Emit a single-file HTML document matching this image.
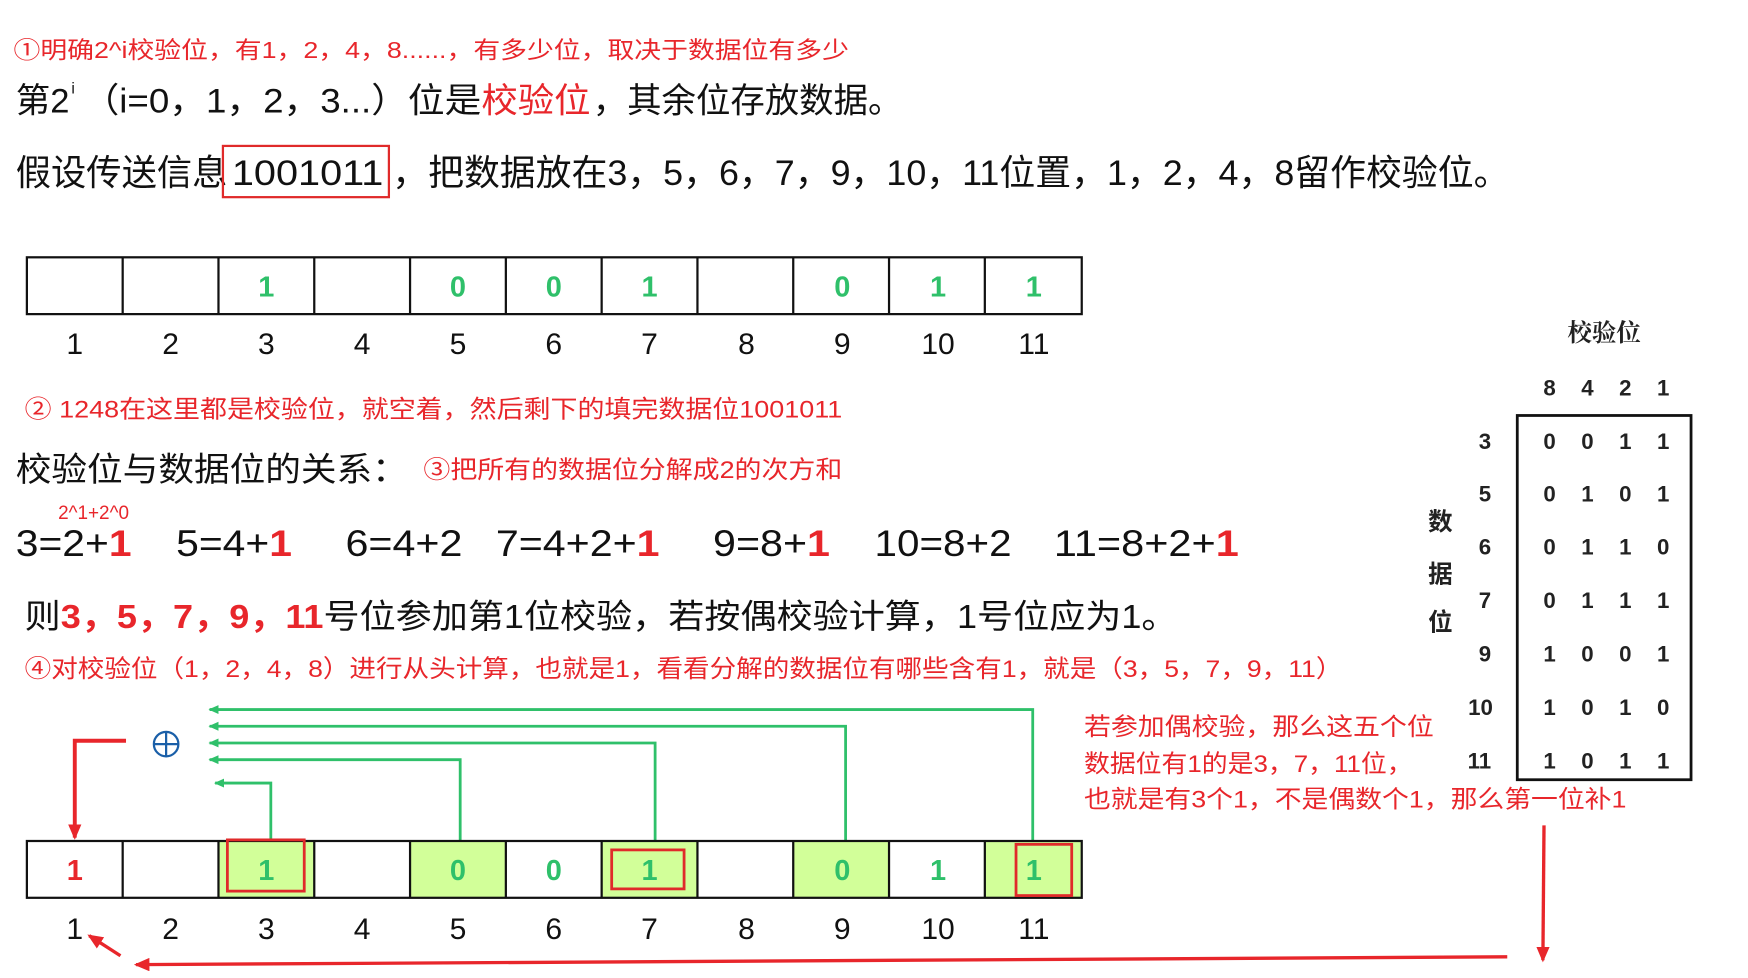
<!DOCTYPE html>
<html><head><meta charset="utf-8"><style>
html,body{margin:0;padding:0;background:#fff;width:1748px;height:978px;overflow:hidden}
svg{display:block}
text{font-family:"Liberation Sans","Noto Sans CJK SC",sans-serif}
.r{fill:#e8262b}
.g{fill:#2fc06a;font-weight:bold}
.s{font-family:"Liberation Serif","Noto Serif CJK SC",serif;font-weight:bold;fill:#222}
</style></head><body>
<svg width="1748" height="978" viewBox="0 0 1569 878" xmlns="http://www.w3.org/2000/svg">
<defs>
<marker id="ga" markerWidth="10" markerHeight="10" refX="8" refY="5" orient="auto" markerUnits="userSpaceOnUse"><path d="M0,1 L9,5 L0,9 Z" fill="#2fc06a"/></marker>
<marker id="ra" markerWidth="14" markerHeight="12" refX="12" refY="6" orient="auto" markerUnits="userSpaceOnUse"><path d="M0,0 L14,6 L0,12 Z" fill="#e8262b"/></marker>
</defs>
<text x="12" y="52" font-size="21" class="r" textLength="750" lengthAdjust="spacingAndGlyphs">①明确2^i校验位，有1，2，4，8......，有多少位，取决于数据位有多少</text>
<text x="14" y="101" font-size="31" fill="#111">第2</text>
<text x="64" y="84" font-size="14" fill="#111">i</text>
<text x="74" y="101" font-size="31" fill="#111" textLength="358" lengthAdjust="spacingAndGlyphs">（i=0，1，2，3...）位是</text>
<text x="432" y="101" font-size="31" class="r" textLength="98" lengthAdjust="spacingAndGlyphs">校验位</text>
<text x="532" y="101" font-size="31" fill="#111" textLength="278" lengthAdjust="spacingAndGlyphs">，其余位存放数据。</text>
<text x="14" y="166" font-size="32" fill="#111" textLength="190" lengthAdjust="spacingAndGlyphs">假设传送信息</text>
<text x="208" y="166" font-size="32" fill="#111" textLength="136" lengthAdjust="spacingAndGlyphs">1001011</text>
<rect x="200" y="131" width="149" height="46" fill="none" stroke="#e02a2a" stroke-width="2"/>
<text x="352" y="166" font-size="32" fill="#111" textLength="1003" lengthAdjust="spacingAndGlyphs">，把数据放在3，5，6，7，9，10，11位置，1，2，4，8留作校验位。</text>
<g stroke="#111" stroke-width="2" fill="none">
<rect x="24" y="231" width="947" height="51"/>
<path d="M110,231v51M196,231v51M282,231v51M368,231v51M454,231v51M540,231v51M626,231v51M712,231v51M798,231v51M884,231v51"/>
</g>
<g font-size="26" text-anchor="middle">
<text x="239" y="266" class="g">1</text><text x="411" y="266" class="g">0</text><text x="497" y="266" class="g">0</text><text x="583" y="266" class="g">1</text><text x="756" y="266" class="g">0</text><text x="842" y="266" class="g">1</text><text x="928" y="266" class="g">1</text>
</g>
<g font-size="27" text-anchor="middle" fill="#111">
<text x="67" y="318">1</text><text x="153" y="318">2</text><text x="239" y="318">3</text><text x="325" y="318">4</text><text x="411" y="318">5</text><text x="497" y="318">6</text><text x="583" y="318">7</text><text x="670" y="318">8</text><text x="756" y="318">9</text><text x="842" y="318">10</text><text x="928" y="318">11</text>
</g>
<text x="22" y="375" font-size="22" class="r" textLength="734" lengthAdjust="spacingAndGlyphs">② 1248在这里都是校验位，就空着，然后剩下的填完数据位1001011</text>
<text x="14" y="432" font-size="30" fill="#111" textLength="352" lengthAdjust="spacingAndGlyphs">校验位与数据位的关系：</text>
<text x="380" y="429" font-size="22" class="r" textLength="376" lengthAdjust="spacingAndGlyphs">③把所有的数据位分解成2的次方和</text>
<text x="52" y="466" font-size="17" class="r">2^1+2^0</text>
<g font-size="33" fill="#111">
<text x="14" y="499" textLength="104" lengthAdjust="spacingAndGlyphs">3=2+<tspan class="r" font-weight="bold">1</tspan></text>
<text x="158" y="499" textLength="104" lengthAdjust="spacingAndGlyphs">5=4+<tspan class="r" font-weight="bold">1</tspan></text>
<text x="310" y="499" textLength="105" lengthAdjust="spacingAndGlyphs">6=4+2</text>
<text x="445" y="499" textLength="147" lengthAdjust="spacingAndGlyphs">7=4+2+<tspan class="r" font-weight="bold">1</tspan></text>
<text x="640" y="499" textLength="105" lengthAdjust="spacingAndGlyphs">9=8+<tspan class="r" font-weight="bold">1</tspan></text>
<text x="785" y="499" textLength="123" lengthAdjust="spacingAndGlyphs">10=8+2</text>
<text x="946" y="499" textLength="166" lengthAdjust="spacingAndGlyphs">11=8+2+<tspan class="r" font-weight="bold">1</tspan></text>
</g>
<text x="22" y="564" font-size="30" fill="#111" textLength="1035" lengthAdjust="spacingAndGlyphs">则<tspan class="r" font-weight="bold">3，5，7，9，11</tspan>号位参加第1位校验，若按偶校验计算，1号位应为1。</text>
<text x="22" y="608" font-size="22" class="r" textLength="1183" lengthAdjust="spacingAndGlyphs">④对校验位（1，2，4，8）进行从头计算，也就是1，看看分解的数据位有哪些含有1，就是（3，5，7，9，11）</text>
<g stroke="#2fc06a" stroke-width="2.5" fill="none">
<path d="M927,755V637H188" marker-end="url(#ga)"/>
<path d="M759,755V652H188" marker-end="url(#ga)"/>
<path d="M588,755V667H188" marker-end="url(#ga)"/>
<path d="M413,755V682H188" marker-end="url(#ga)"/>
<path d="M243,755V703H193" marker-end="url(#ga)"/>
</g>
<circle cx="149" cy="668" r="11" fill="none" stroke="#1a5fa8" stroke-width="2"/>
<path d="M138,668h22M149,657v22" stroke="#1a5fa8" stroke-width="2"/>
<path d="M113,665H67V752" stroke="#e8262b" stroke-width="3.5" fill="none" marker-end="url(#ra)"/>
<g fill="#d2ff99">
<rect x="196" y="755" width="86" height="51"/><rect x="368" y="755" width="86" height="51"/><rect x="540" y="755" width="86" height="51"/><rect x="712" y="755" width="86" height="51"/><rect x="884" y="755" width="86" height="51"/>
</g>
<g stroke="#111" stroke-width="2" fill="none">
<rect x="24" y="755" width="947" height="51"/>
<path d="M110,755v51M196,755v51M282,755v51M368,755v51M454,755v51M540,755v51M626,755v51M712,755v51M798,755v51M884,755v51"/>
</g>
<g fill="none" stroke="#e02a2a" stroke-width="2.5">
<rect x="204" y="754" width="69" height="46"/>
<rect x="549" y="763" width="65" height="35"/>
<rect x="912" y="758" width="50" height="46"/>
</g>
<g font-size="26" text-anchor="middle">
<text x="67" y="790" class="r" font-weight="bold">1</text>
<text x="239" y="790" class="g">1</text><text x="411" y="790" class="g">0</text><text x="497" y="790" class="g">0</text><text x="583" y="790" class="g">1</text><text x="756" y="790" class="g">0</text><text x="842" y="790" class="g">1</text><text x="928" y="790" class="g">1</text>
</g>
<g font-size="27" text-anchor="middle" fill="#111">
<text x="67" y="843">1</text><text x="153" y="843">2</text><text x="239" y="843">3</text><text x="325" y="843">4</text><text x="411" y="843">5</text><text x="497" y="843">6</text><text x="583" y="843">7</text><text x="670" y="843">8</text><text x="756" y="843">9</text><text x="842" y="843">10</text><text x="928" y="843">11</text>
</g>
<g font-size="22" class="r">
<text x="973" y="660" textLength="314" lengthAdjust="spacingAndGlyphs">若参加偶校验，那么这五个位</text>
<text x="973" y="693" textLength="295" lengthAdjust="spacingAndGlyphs">数据位有1的是3，7，11位，</text>
<text x="973" y="725" textLength="487" lengthAdjust="spacingAndGlyphs">也就是有3个1，不是偶数个1，那么第一位补1</text>
</g>
<g stroke="#e8262b" stroke-width="3" fill="none">
<path d="M1386,741L1385,862" marker-end="url(#ra)"/>
<path d="M1353,859L122,866" marker-end="url(#ra)"/>
<path d="M108,858L80,840" marker-end="url(#ra)"/>
</g>
<text x="1440" y="306" font-size="22" class="s" text-anchor="middle">校验位</text>
<g font-size="20" class="s" text-anchor="middle">
<text x="1391" y="355">8</text><text x="1425" y="355">4</text><text x="1459" y="355">2</text><text x="1493" y="355">1</text>
</g>
<rect x="1362" y="373" width="156" height="327" fill="none" stroke="#111" stroke-width="2.5"/>
<g font-size="20" class="s" text-anchor="middle">
<text x="1333" y="403">3</text><text x="1333" y="450">5</text><text x="1333" y="498">6</text><text x="1333" y="546">7</text><text x="1333" y="594">9</text><text x="1329" y="642">10</text><text x="1328" y="690">11</text>
<text x="1391" y="403">0</text><text x="1425" y="403">0</text><text x="1459" y="403">1</text><text x="1493" y="403">1</text>
<text x="1391" y="450">0</text><text x="1425" y="450">1</text><text x="1459" y="450">0</text><text x="1493" y="450">1</text>
<text x="1391" y="498">0</text><text x="1425" y="498">1</text><text x="1459" y="498">1</text><text x="1493" y="498">0</text>
<text x="1391" y="546">0</text><text x="1425" y="546">1</text><text x="1459" y="546">1</text><text x="1493" y="546">1</text>
<text x="1391" y="594">1</text><text x="1425" y="594">0</text><text x="1459" y="594">0</text><text x="1493" y="594">1</text>
<text x="1391" y="642">1</text><text x="1425" y="642">0</text><text x="1459" y="642">1</text><text x="1493" y="642">0</text>
<text x="1391" y="690">1</text><text x="1425" y="690">0</text><text x="1459" y="690">1</text><text x="1493" y="690">1</text>
</g>
<g font-size="22" class="s" text-anchor="middle">
<text x="1293" y="476">数</text><text x="1293" y="523">据</text><text x="1293" y="566">位</text>
</g>
</svg>
</body></html>
